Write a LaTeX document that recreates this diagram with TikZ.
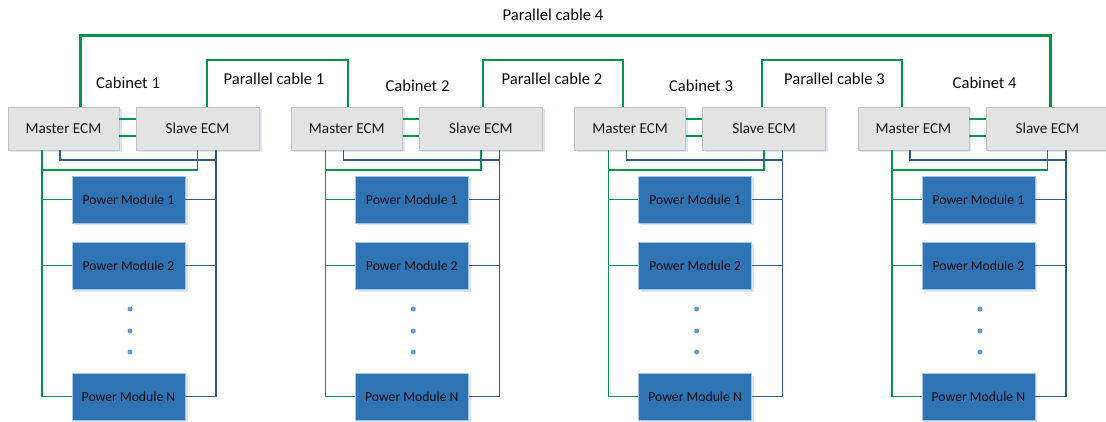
\documentclass[tikz,border=0pt]{standalone}
\usepackage{fontspec}
\setmainfont{Carlito}
\usetikzlibrary{shadows}
\definecolor{ecmfill}{HTML}{E3E3E3}
\definecolor{ecmborder}{HTML}{C4C4C4}
\definecolor{pmfill}{HTML}{2E74B5}
\definecolor{pmborder}{HTML}{A9C4E0}
\definecolor{gcol}{HTML}{00964B}
\definecolor{bcol}{HTML}{2F5A8C}
\definecolor{dotcol}{HTML}{5B9BD5}
\definecolor{shadcol}{HTML}{DCE6F2}
\tikzset{
  ecm/.style={draw=ecmborder, line width=0.8pt, fill=ecmfill, minimum height=43pt, inner sep=0pt,
    font=\fontsize{15.2}{18}\selectfont, text=black!90,
    drop shadow={shadow xshift=2.5pt, shadow yshift=-2.5pt, fill=shadcol, opacity=1}},
  pm/.style={draw=pmborder, line width=0.8pt, fill=pmfill, minimum width=113pt, minimum height=47pt, inner sep=0pt,
    font=\fontsize{13.7}{16}\selectfont, text=black!95,
    drop shadow={shadow xshift=2.5pt, shadow yshift=-2.5pt, fill=shadcol, opacity=1}},
  lbl/.style={font=\fontsize{16.6}{19}\selectfont, text=black!95, inner sep=0pt},
  gline/.style={draw=gcol, line width=1.4pt},
  bline/.style={draw=bcol, line width=1.4pt},
  gthick/.style={draw=gcol, line width=3pt},
  gmid/.style={draw=gcol, line width=2pt},
  dotm/.style={circle, fill=dotcol, minimum size=5pt, inner sep=0pt}
}
\begin{document}
\begin{tikzpicture}[x=1pt,y=-1pt]
\useasboundingbox (0,0) rectangle (1106,422);
\foreach \i in {1,2,3,4}{
  \pgfmathsetmacro\dx{(\i-1)*283.3}
  \node[ecm, minimum width=111pt] (M\i) at (63.5+\dx,128.5) {Master ECM};
  \node[ecm, minimum width=123pt] (S\i) at (197.5+\dx,128.5) {Slave ECM};
  \node[pm] (Pa\i) at (128.5+\dx,199.5) {Power Module 1};
  \node[pm] (Pb\i) at (128.5+\dx,265.5) {Power Module 2};
  \node[pm] (Pn\i) at (128.5+\dx,396.5) {Power Module N};
  \node[dotm] (da\i) at (130+\dx,309) {};
  \node[dotm] (db\i) at (130+\dx,331) {};
  \node[dotm] (dc\i) at (130+\dx,352) {};
  \coordinate (g\i) at (42+\dx,170);
  \coordinate (m\i) at (60+\dx,160);
  \coordinate (b\i) at (216+\dx,160);
  \coordinate (l\i) at (0,119);
  \coordinate (k\i) at (0,136);
  % links master-slave
  \draw[gline] (M\i.east |- l\i) -- (S\i.west |- l\i);
  \draw[gline] (M\i.east |- k\i) -- (S\i.west |- k\i);
  % green bus
  \draw[gline] (M\i.south -| g\i) -- (g\i |- Pn\i.west) -- (Pn\i.west);
  \draw[gline] (g\i) -| (S\i.south);
  \draw[gline] (g\i |- Pa\i.west) -- (Pa\i.west);
  \draw[gline] (g\i |- Pb\i.west) -- (Pb\i.west);
  % blue bus
  \draw[bline] (M\i.south -| m\i) -- (m\i) -- (b\i);
  \draw[bline] (S\i.south -| b\i) -- (b\i |- Pn\i.east) -- (Pn\i.east);
  \draw[bline] (Pa\i.east) -- (b\i |- Pa\i.east);
  \draw[bline] (Pb\i.east) -- (b\i |- Pb\i.east);
}
% cabinet labels
\node[lbl] (cab1) at (128,83) {Cabinet 1};
\node[lbl] (cab2) at (417.5,86) {Cabinet 2};
\node[lbl] (cab3) at (701,86) {Cabinet 3};
\node[lbl] (cab4) at (984.7,83) {Cabinet 4};
% parallel cables
\coordinate (c1a) at (207,60);
\coordinate (c1b) at (348,60);
\coordinate (c2a) at (483,60);
\coordinate (c2b) at (623,60);
\coordinate (c3a) at (762,60);
\coordinate (c3b) at (902,60);
\coordinate (c4a) at (80,36);
\coordinate (c4b) at (1050,36);
\draw[gmid] (S1.north -| c1a) -- (c1a) -- (c1b) -- (M2.north -| c1b);
\draw[gline] (S2.north -| c2a) -- (c2a) -- (c2b) -- (M3.north -| c2b);
\draw[gline] (S3.north -| c3a) -- (c3a) -- (c3b) -- (M4.north -| c3b);
\draw[gthick] (M1.north -| c4a) -- (c4a) -- (c4b) -- (S4.north -| c4b);
\node[lbl] (pc1) at (274,79) {Parallel cable 1};
\node[lbl] (pc2) at (552,79) {Parallel cable 2};
\node[lbl] (pc3) at (834.5,79) {Parallel cable 3};
\node[lbl] (pc4) at (553,15) {Parallel cable 4};
\end{tikzpicture}
\end{document}
